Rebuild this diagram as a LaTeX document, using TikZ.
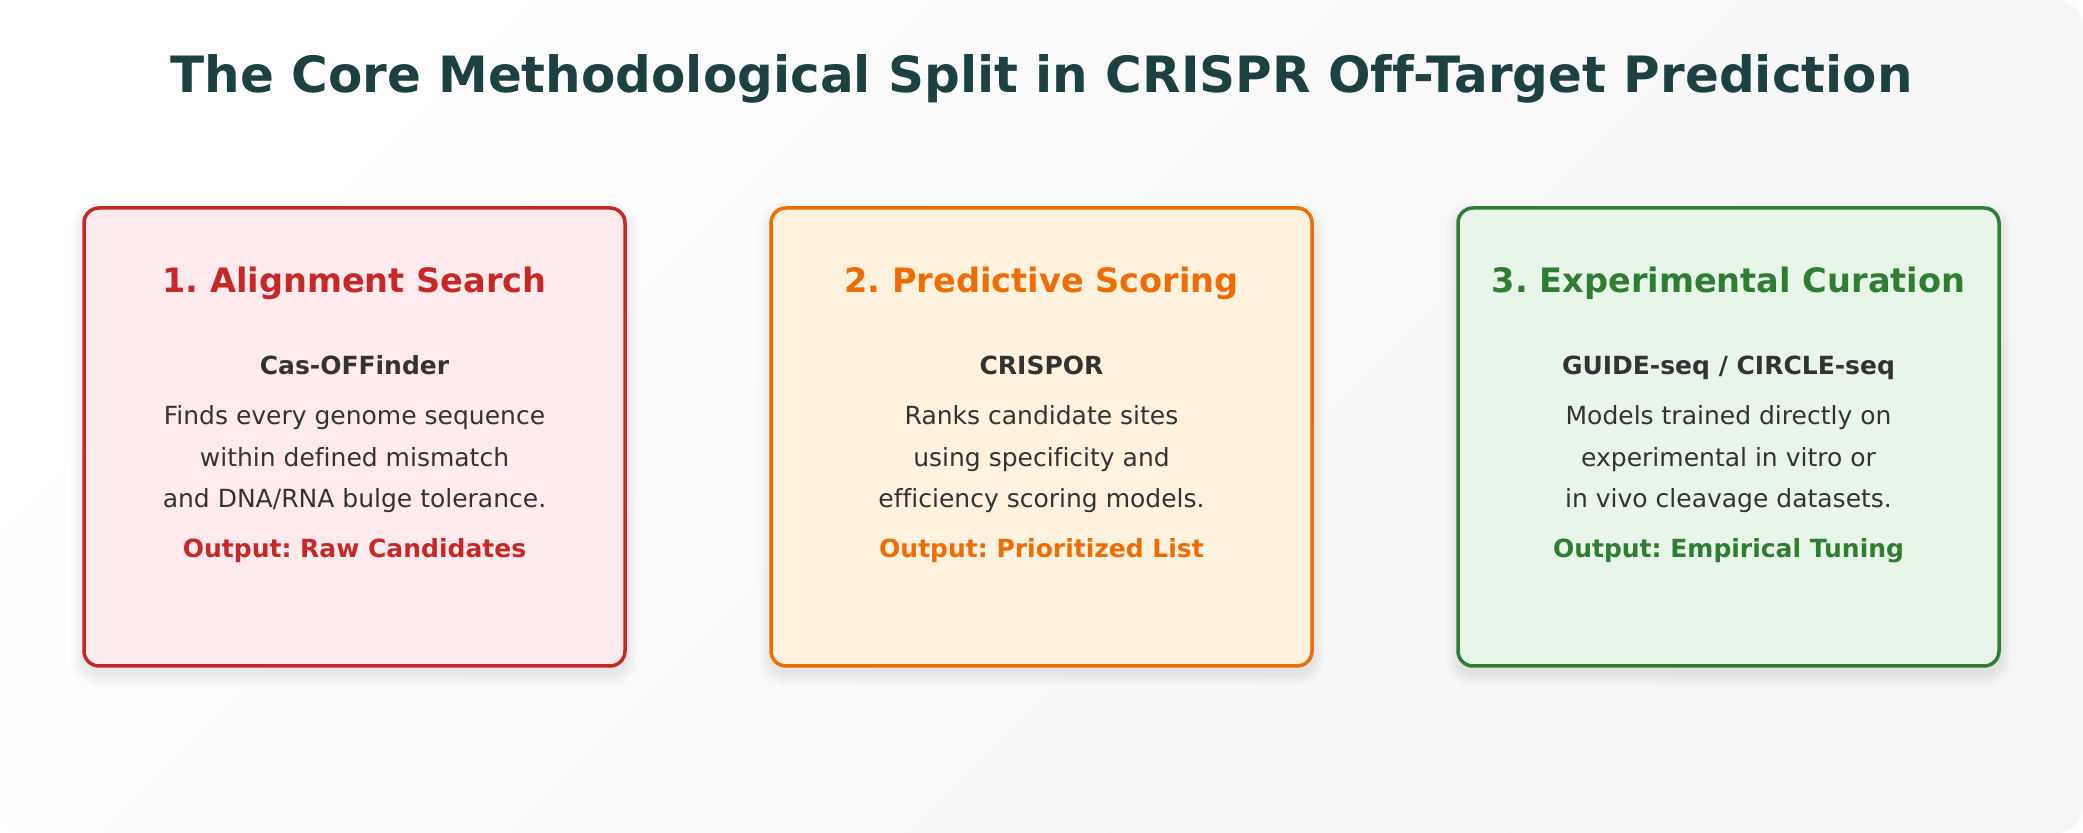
\documentclass[tikz,border=0pt]{standalone}
\usepackage{fontspec}
\setmainfont{DejaVu Sans}[Ligatures=CommonOff]
\frenchspacing
\definecolor{titlec}{HTML}{1D4040}
\definecolor{bodyc}{HTML}{333333}
\definecolor{redc}{HTML}{C62828}
\definecolor{redf}{HTML}{FFEBEE}
\definecolor{orac}{HTML}{EF6C00}
\definecolor{oraf}{HTML}{FFF3E0}
\definecolor{grec}{HTML}{2E7D32}
\definecolor{gref}{HTML}{E8F5E9}
\begin{document}
\begin{tikzpicture}[x=0.5pt,y=-0.5pt,
  card/.style={draw, line width=1.75pt, rounded corners=7.5pt,
    minimum width=270.5pt, minimum height=229pt, inner sep=0pt},
  ttl/.style={anchor=base, inner sep=0pt, text=titlec, font=\fontsize{25pt}{30pt}\selectfont\bfseries},
  head/.style={anchor=base, inner sep=0pt, font=\fontsize{16.8pt}{20pt}\selectfont\bfseries},
  sub/.style={anchor=base, inner sep=0pt, text=bodyc, font=\fontsize{12.5pt}{15pt}\selectfont\bfseries},
  body/.style={anchor=base, inner sep=0pt, text=bodyc, font=\fontsize{12.5pt}{15pt}\selectfont},
  outp/.style={anchor=base, inner sep=0pt, font=\fontsize{12.5pt}{15pt}\selectfont\bfseries}]
\useasboundingbox (0,0) rectangle (2083,833);
\shade[rounded corners=13.5pt, top color=white, bottom color=black!4, shading angle=45] (0,0) rectangle (2083,833);
\node[ttl] (title) at (1041.5,93) {The Core Methodological Split in CRISPR Off-Target Prediction};
% soft shadows
\foreach \cx in {354.5,1041.5,1728.5}{
  \foreach \i in {1,...,10}{
    \fill[black, opacity=0.009, rounded corners=7.5pt+\i*0.6pt]
      (\cx-270.5-\i*1.3, 208+7-\i*1.3) rectangle (\cx+270.5+\i*1.3, 666+7+\i*1.3);
  }
}
% cards
\node[card, draw=redc, fill=redf] (c1) at (354.5,437) {};
\node[card, draw=orac, fill=oraf] (c2) at (1041.5,437) {};
\node[card, draw=grec, fill=gref] (c3) at (1728.5,437) {};
% card 1
\node[head, text=redc] (h1) at (354.5,293) {1. Alignment Search};
\node[sub] (s1) at (354.5,375) {Cas-OFFinder};
\node[body] (b1a) at (354.5,425) {Finds every genome sequence};
\node[body] (b1b) at (354.5,467) {within defined mismatch};
\node[body] (b1c) at (354.5,508) {and DNA/RNA bulge tolerance.};
\node[outp, text=redc] (o1) at (354.5,558) {Output: Raw Candidates};
% card 2
\node[head, text=orac] (h2) at (1041.5,293) {2. Predictive Scoring};
\node[sub] (s2) at (1041.5,375) {CRISPOR};
\node[body] (b2a) at (1041.5,425) {Ranks candidate sites};
\node[body] (b2b) at (1041.5,467) {using specificity and};
\node[body] (b2c) at (1041.5,508) {efficiency scoring models.};
\node[outp, text=orac] (o2) at (1041.5,558) {Output: Prioritized List};
% card 3
\node[head, text=grec] (h3) at (1728.5,293) {3. Experimental Curation};
\node[sub] (s3) at (1728.5,375) {GUIDE-seq / CIRCLE-seq};
\node[body] (b3a) at (1728.5,425) {Models trained directly on};
\node[body] (b3b) at (1728.5,467) {experimental in vitro or};
\node[body] (b3c) at (1728.5,508) {in vivo cleavage datasets.};
\node[outp, text=grec] (o3) at (1728.5,558) {Output: Empirical Tuning};
\end{tikzpicture}
\end{document}
